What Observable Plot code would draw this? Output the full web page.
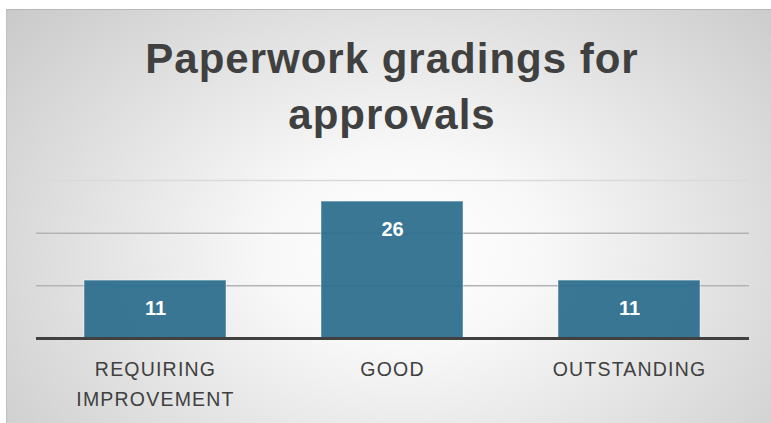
<!DOCTYPE html>
<html>
<head>
<meta charset="utf-8">
<script src="https://cdn.jsdelivr.net/npm/d3@7"></script>
<script src="https://cdn.jsdelivr.net/npm/@observablehq/plot@0.6"></script>
<style>
  html, body { margin: 0; padding: 0; width: 771px; height: 423px; overflow: hidden; background: #ffffff; }
  #bg {
    position: absolute; left: 6px; top: 9px; width: 765px; height: 414px;
    border-top: 1px solid #b8b8b8; border-left: 1px solid #c0c0c0; box-sizing: border-box;
    background: radial-gradient(ellipse 72% 95% at 52% 58%, #ffffff 0%, #f8f8f8 25%, #c6c6c6 100%);
  }
  #title {
    position: absolute; left: 0; top: 31px; width: 784px; text-align: center;
    font-family: "Liberation Sans", Arial, sans-serif; font-weight: bold;
    font-size: 42px; line-height: 56px; letter-spacing: 1px; color: #404040;
  }
  #chart { position: absolute; left: 0; top: 160px; }
  .chart g[aria-label="x-axis tick label"] text { letter-spacing: 1.2px; }
</style>
</head>
<body>
<div id="bg"></div>
<div id="title">Paperwork gradings for<br>approvals</div>
<div id="chart"></div>
<script>
const grades = ["REQUIRING\nIMPROVEMENT", "GOOD", "OUTSTANDING"];
const counts = [11, 26, 11];
const gridValues = [10, 20, 30];
const yMax = 30;

const data = grades.map((g, i) => ({grade: g, count: counts[i]}));

const chart = Plot.plot({
  width: 771,
  height: 263,
  marginLeft: 36,
  marginRight: 22,
  marginTop: 20,
  marginBottom: 85,
  className: "chart",
  style: {background: "transparent", overflow: "visible", fontFamily: "'Liberation Sans', Arial, sans-serif"},
  x: {domain: grades, paddingInner: 0.4, paddingOuter: 0.2, axis: null},
  y: {domain: [0, yMax], axis: null},
  marks: [
    Plot.ruleY(gridValues, {stroke: d => d === yMax ? "#d9d9d9" : "#b3b3b3", strokeWidth: 1.5}),
    Plot.barY(data, {x: "grade", y: "count", fill: "#2a6d8d", fillOpacity: 0.93, stroke: "#ffffff", strokeOpacity: 0.45, strokeWidth: 1}),
    Plot.ruleY([0], {stroke: "#404040", strokeWidth: 3}),
    Plot.text(data, {x: "grade", y: "count", text: d => String(d.count), dy: 28, fill: "#ffffff", fontWeight: "bold", fontSize: 20}),
    Plot.axisX({tickSize: 0, tickPadding: 16, fontSize: 19.5, lineHeight: 1.55, fill: "#404040", label: null})
  ]
});
document.getElementById("chart").appendChild(chart);
</script>
</body>
</html>
